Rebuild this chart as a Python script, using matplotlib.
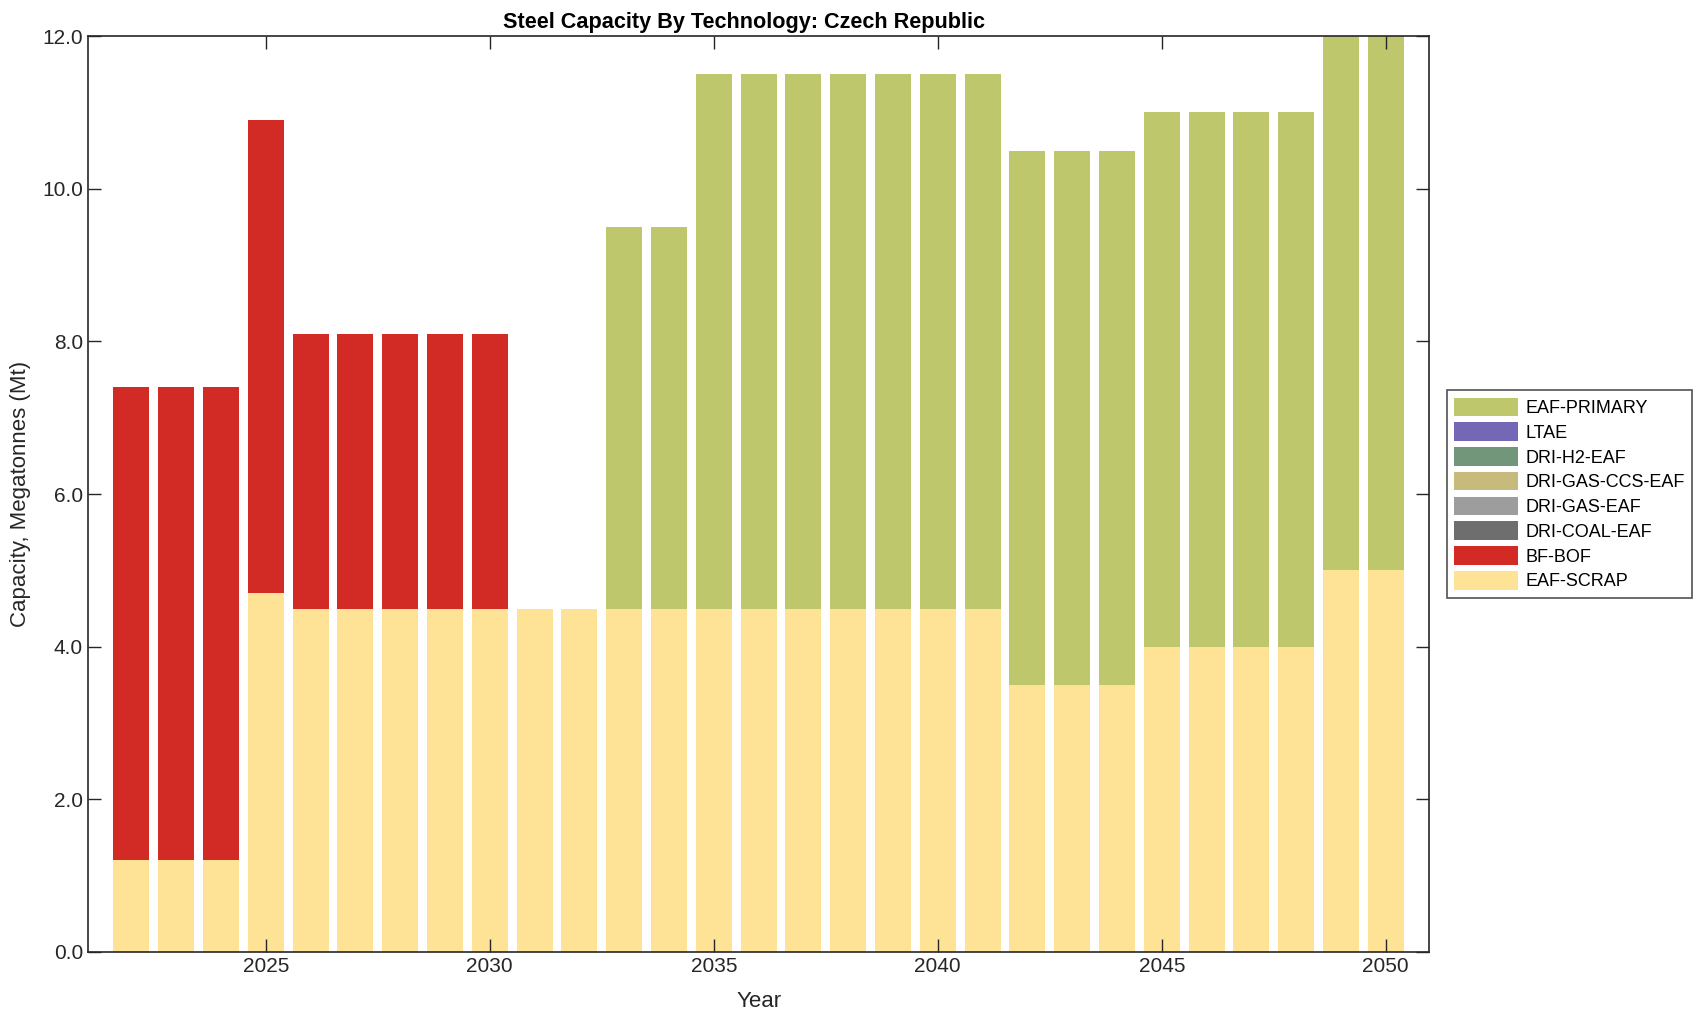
import numpy as np
import matplotlib
matplotlib.use("Agg")
import matplotlib.pyplot as plt

plt.rcParams['font.family'] = ['Liberation Sans', 'DejaVu Sans']

years = np.arange(2022, 2051)

# capacities in Mt
eaf_scrap = [1.2, 1.2, 1.2, 4.7, 4.5, 4.5, 4.5, 4.5, 4.5, 4.5, 4.5,
             4.5, 4.5, 4.5, 4.5, 4.5, 4.5, 4.5, 4.5, 4.5,
             3.5, 3.5, 3.5, 4.0, 4.0, 4.0, 4.0, 5.0, 5.0]
bf_bof = [6.2, 6.2, 6.2, 6.2, 3.6, 3.6, 3.6, 3.6, 3.6, 0, 0,
          0, 0, 0, 0, 0, 0, 0, 0, 0,
          0, 0, 0, 0, 0, 0, 0, 0, 0]
dri_coal_eaf = [0] * 29
dri_gas_eaf = [0] * 29
dri_gas_ccs_eaf = [0] * 29
dri_h2_eaf = [0] * 29
ltae = [0] * 29
eaf_primary = [0, 0, 0, 0, 0, 0, 0, 0, 0, 0, 0,
               5.0, 5.0, 7.0, 7.0, 7.0, 7.0, 7.0, 7.0, 7.0,
               7.0, 7.0, 7.0, 7.0, 7.0, 7.0, 7.0, 7.0, 7.0]

techs = ['EAF-SCRAP', 'BF-BOF', 'DRI-COAL-EAF', 'DRI-GAS-EAF',
         'DRI-GAS-CCS-EAF', 'DRI-H2-EAF', 'LTAE', 'EAF-PRIMARY']
series = [eaf_scrap, bf_bof, dri_coal_eaf, dri_gas_eaf,
          dri_gas_ccs_eaf, dri_h2_eaf, ltae, eaf_primary]
colors = ['#FEE396', '#D22B25', '#6E6E6E', '#9D9D9D',
          '#C6BB7D', '#72967A', '#7468B6', '#BEC76B']

fig = plt.figure(figsize=(17.08, 10.21), dpi=100)
ax = fig.add_axes([0.0515, 0.0676, 0.7853, 0.8971])

bottom = np.zeros(len(years))
handles = []
for name, vals, c in zip(techs, series, colors):
    vals = np.array(vals, dtype=float)
    h = ax.bar(years, vals, width=0.8, bottom=bottom, color=c,
               edgecolor='none', label=name)
    handles.append(h)
    bottom += vals

ax.set_xlim(2021.03, 2050.97)
ax.set_ylim(0, 12)
ax.set_xticks([2025, 2030, 2035, 2040, 2045, 2050])
ax.set_yticks(np.arange(0, 12.1, 2))
ax.set_yticklabels([f"{v:.1f}" for v in np.arange(0, 12.1, 2)])
ax.tick_params(direction='in', length=9.5, width=1, top=True, right=True,
               labelsize=15, colors='#262626', labelcolor='#262626')
for s in ax.spines.values():
    s.set_color('#262626')
    s.set_linewidth(1.2)

ax.set_xlabel('Year', fontsize=16, color='#262626', labelpad=11)
ax.set_ylabel('Capacity, Megatonnes (Mt)', fontsize=16, color='#262626', labelpad=8)
ax.set_title('Steel Capacity By Technology: Czech Republic', fontsize=15.6,
             fontweight='bold', pad=6, x=0.489)

leg = ax.legend(handles[::-1], techs[::-1], loc='center left',
                bbox_to_anchor=(1.0134, 0.5), borderaxespad=0, fontsize=13,
                frameon=True, fancybox=False, edgecolor='#262626',
                handlelength=3.5, handleheight=1.2, labelspacing=0.3,
                borderpad=0.4, handletextpad=0.45)
leg.get_frame().set_linewidth(1.2)

fig.savefig('out.png', dpi=100)
